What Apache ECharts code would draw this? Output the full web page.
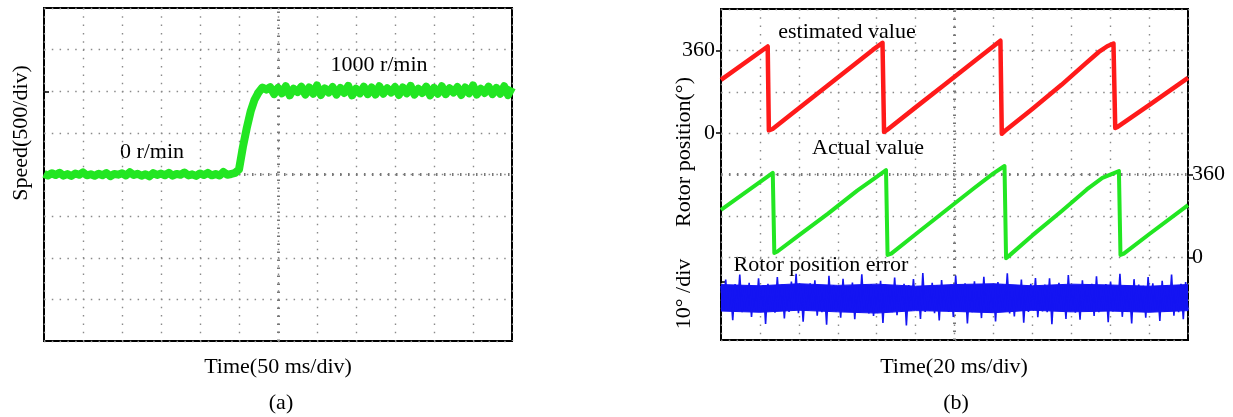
<!DOCTYPE html>
<html>
<head>
<meta charset="utf-8">
<script src="https://cdn.jsdelivr.net/npm/echarts@6/dist/echarts.min.js"></script>
<style>
  html, body { margin: 0; padding: 0; background: #fff; }
  #main { width: 1233px; height: 417px; }
</style>
</head>
<body>
<div id="main"></div>
<script>
// (a) speed trace, one sample every 5 ms, r/min
var speedStep = 5;
var speedValues = [
  8, -12, 15, -6, 20, -14, 5, -18, 12, -4,
  25, -10, 3, -16, 10, -8, 18, -20, 6, -2,
  14, -12, 28, -6, 9, -15, 4, -22, 16, -5,
  11, -9, 20, -14, 7, -3, 24, -11, 2, -17,
  13, -7, 19, -10, 5, -13, 30, -4,
  6, 20, 60, 330, 560, 760, 900, 985, 1045, 1020,
  1050, 965, 1040, 975, 1060, 950, 1030, 990, 1055, 960,
  1045, 970, 1070, 955, 1035, 985, 1050, 960, 1040, 980,
  1065, 950, 1030, 975, 1055, 965, 1045, 960, 1060, 970,
  1035, 985, 1050, 955, 1045, 975, 1065, 960, 1030, 980,
  1055, 950, 1040, 970, 1060, 965, 1035, 985, 1050, 955,
  1045, 975, 1070, 960, 1030, 980, 1055, 965, 1040, 970,
  1060, 955, 1045
];

// (b) estimated rotor position (ms, degrees)
var redTime = [0, 24, 24.6, 26.5, 40, 55, 70, 78, 83, 83.8, 85.5, 100, 115, 130, 140, 143.6, 144.3, 146, 160, 175, 187, 194, 198.5, 201.7, 202.6, 204, 220, 240];
var redAngle = [232, 377, 12, 18, 108, 208, 308, 362, 393, 5, 15, 112, 212, 312, 378, 402, -3, 10, 105, 210, 300, 352, 378, 390, 22, 28, 122, 240];

// (b) actual rotor position
var greenTime = [0, 26.6, 27.4, 29, 40, 55, 70, 80, 84.8, 85.6, 87.5, 100, 115, 130, 140, 145.7, 146.5, 148, 160, 175, 188, 196, 204.5, 205.3, 207, 220, 240];
var greenAngle = [206, 367, 19, 25, 95, 190, 290, 350, 379, 10, 16, 100, 200, 300, 365, 397, -4, 6, 95, 200, 295, 345, 375, 10, 16, 100, 227];

// (b) rotor position error: dense core band every 20 ms ...
var errCoreTime = [0, 20, 40, 60, 80, 100, 120, 140, 160, 180, 200, 220, 240];
var errCoreHigh = [3.4, 3.1, 3.6, 3.2, 3.5, 3.0, 3.4, 3.6, 3.1, 3.5, 3.3, 3.0, 3.4];
var errCoreLow = [-3.0, -3.3, -2.8, -3.2, -3.5, -2.9, -3.1, -3.4, -2.8, -3.2, -3.0, -3.3, -2.9];
// ... and the spikes, samples spread over 0..240 ms
var errValues = [
  3.1,-2.8, 4.6,-3.0, 2.9,-5.2, 3.5,-2.6, 5.8,-3.3, 3.0,-2.9, 3.8,-4.4, 2.7,-3.1, 4.9,-2.7, 3.3,-6.1,
  3.6,-3.0, 2.8,-3.4, 5.2,-2.8, 3.4,-4.8, 3.0,-3.2, 4.1,-2.9, 6.0,-3.5, 3.2,-5.6, 2.9,-3.0, 3.7,-2.7,
  4.4,-4.1, 3.1,-3.3, 2.8,-6.3, 5.5,-2.9, 3.3,-3.1, 3.0,-4.6, 4.8,-3.0, 2.7,-2.8, 3.9,-5.0, 3.2,-3.4,
  5.9,-2.9, 3.0,-3.6, 3.5,-4.2, 2.9,-3.0, 4.3,-5.9, 3.4,-2.8, 3.1,-3.3, 5.1,-4.0, 2.8,-3.1, 3.6,-6.5,
  3.3,-3.0, 4.7,-2.7, 3.0,-4.9, 6.2,-3.2, 2.9,-3.0, 3.8,-3.5, 3.2,-5.3, 4.5,-2.9, 3.0,-3.2, 3.4,-4.4,
  5.6,-3.1, 2.8,-2.8, 3.7,-6.0, 3.1,-3.3, 4.2,-3.0, 2.9,-4.7, 5.3,-2.9, 3.3,-3.4, 3.0,-5.5, 4.0,-3.1,
  3.5,-2.8, 6.1,-3.6, 2.9,-4.3, 3.2,-3.0, 4.6,-5.8, 3.0,-3.2, 3.6,-2.9, 5.0,-4.5, 2.8,-3.1, 3.4,-3.3,
  4.9,-6.2, 3.1,-3.0, 3.8,-2.8, 2.9,-4.9, 5.7,-3.1, 3.3,-3.4, 3.0,-5.1, 4.4,-2.9, 3.2,-3.0, 3.6,-4.2,
  5.4,-3.3, 2.9,-2.8, 3.5,-5.7, 4.1,-3.1, 3.0,-3.0, 6.0,-4.4, 3.2,-3.2, 2.8,-6.0, 4.7,-2.9, 3.4,-3.1,
  3.1,-4.6, 5.2,-3.0, 3.7,-2.8, 2.9,-5.4, 4.3,-3.2, 3.3,-3.0, 5.8,-4.1, 3.0,-3.3, 3.6,-5.0, 4.0,-2.9
];
var errSpan = 240;

var speedTicks = [0, 1000];
var angleTicks = [0, 360];
var errTicks = [4, -2];

var FONT = '"Liberation Serif", "DejaVu Serif", serif';
var BLUE = '#1414f2';
var dotH = { color: '#8a8a8a', width: 1.4, type: [1.5, 6.3] };
var dotV = { color: '#8a8a8a', width: 1.4, type: [1.5, 6.8] };
var centerLine = { color: '#777', width: 3, type: [1.5, 6.5] };
var tickStyle = { color: '#000', width: 1.5 };

function zip(xs, ys) {
  var out = [];
  for (var i = 0; i < xs.length; i++) out.push([xs[i], ys[i]]);
  return out;
}

var speedData = speedValues.map(function (v, i) { return [i * speedStep, v]; });
var errData = errValues.map(function (v, i) { return [i * errSpan / (errValues.length - 1), v]; });

// axis that only carries a few ticks / labels, no grid lines
function markAxis(grid, min, max, interval, pos, ticks, inside, labels, margin) {
  return {
    type: 'value', gridIndex: grid, min: min, max: max, interval: interval, position: pos,
    axisLine: { show: false },
    axisTick: { show: true, inside: inside, length: 5, customValues: ticks, lineStyle: tickStyle },
    axisLabel: labels
      ? { show: true, customValues: ticks, margin: margin, color: '#000', fontFamily: FONT, fontSize: 22 }
      : { show: false },
    splitLine: { show: false }
  };
}

// filled half of the error band; the two halves overlap a little around 0
function coreSeries(name, data, origin) {
  return {
    name: name, type: 'line', xAxisIndex: 1, yAxisIndex: 5, z: 5,
    data: data, showSymbol: false, silent: true,
    lineStyle: { color: BLUE, width: 1 },
    areaStyle: { color: BLUE, opacity: 1, origin: origin }
  };
}

var chart = echarts.init(document.getElementById('main'));

var option = {
  animation: false,
  backgroundColor: '#fff',
  grid: [
    { left: 44, top: 8, width: 468, height: 333, show: true, borderColor: '#000', borderWidth: 2, backgroundColor: 'transparent' },
    { left: 721, top: 9, width: 467, height: 331, show: true, borderColor: '#000', borderWidth: 2, backgroundColor: 'transparent' }
  ],
  xAxis: [
    {
      type: 'value', gridIndex: 0, min: 0, max: 600, interval: 50,
      axisLine: { show: false }, axisTick: { show: false }, axisLabel: { show: false },
      splitLine: { show: true, lineStyle: dotV }
    },
    {
      type: 'value', gridIndex: 1, min: 0, max: 240, interval: 20,
      axisLine: { show: false }, axisTick: { show: false }, axisLabel: { show: false },
      splitLine: { show: true, lineStyle: dotV }
    }
  ],
  yAxis: [
    // 0: speed scale + grid lines
    {
      type: 'value', gridIndex: 0, min: -2000, max: 2000, interval: 500,
      axisLine: { show: false }, axisTick: { show: false }, axisLabel: { show: false },
      splitLine: { show: true, lineStyle: dotH }
    },
    // 1: speed ticks
    markAxis(0, -2000, 2000, 500, 'left', speedTicks, true, false, 0),
    // 2: estimated angle scale + grid lines
    {
      type: 'value', gridIndex: 1, min: -900, max: 540, interval: 180, position: 'left',
      axisLine: { show: false }, axisTick: { show: false }, axisLabel: { show: false },
      splitLine: { show: true, lineStyle: dotH }
    },
    // 3: estimated angle ticks/labels
    markAxis(1, -900, 540, 180, 'left', angleTicks, false, true, 6),
    // 4: actual angle ticks/labels
    markAxis(1, -360, 1080, 180, 'right', angleTicks, false, true, 4),
    // 5: error scale ticks
    markAxis(1, -10, 70, 10, 'left', errTicks, true, false, 0)
  ],
  series: [
    {
      type: 'line', xAxisIndex: 0, yAxisIndex: 0, data: [], z: 1, silent: true,
      markLine: {
        silent: true, symbol: 'none', label: { show: false }, lineStyle: centerLine,
        data: [{ xAxis: 300 }, { yAxis: 0 }]
      }
    },
    {
      type: 'line', xAxisIndex: 1, yAxisIndex: 2, data: [], z: 1, silent: true,
      markLine: {
        silent: true, symbol: 'none', label: { show: false }, lineStyle: centerLine,
        data: [{ xAxis: 120 }, { yAxis: -180 }]
      }
    },
    {
      name: 'speed', type: 'line', xAxisIndex: 0, yAxisIndex: 0, z: 5,
      data: speedData, showSymbol: false,
      lineStyle: { color: '#22e622', width: 8, join: 'round' }
    },
    {
      name: 'estimated', type: 'line', xAxisIndex: 1, yAxisIndex: 2, z: 5,
      data: zip(redTime, redAngle), showSymbol: false,
      lineStyle: { color: '#ff1a1a', width: 4.5, join: 'round' }
    },
    {
      name: 'actual', type: 'line', xAxisIndex: 1, yAxisIndex: 4, z: 5,
      data: zip(greenTime, greenAngle), showSymbol: false,
      lineStyle: { color: '#22e622', width: 4, join: 'round' }
    },
    coreSeries('errHigh', zip(errCoreTime, errCoreHigh), -1),
    coreSeries('errLow', zip(errCoreTime, errCoreLow), 1),
    {
      name: 'error', type: 'line', xAxisIndex: 1, yAxisIndex: 5, z: 6,
      data: errData, showSymbol: false,
      lineStyle: { color: BLUE, width: 1.6 }
    }
  ],
  graphic: [
    { type: 'text', x: 21, y: 133, rotation: Math.PI / 2, style: { text: 'Speed(500/div)', font: '22px ' + FONT, fill: '#000', align: 'center', verticalAlign: 'middle' } },
    { type: 'text', x: 278, y: 367, style: { text: 'Time(50 ms/div)', font: '22px ' + FONT, fill: '#000', align: 'center', verticalAlign: 'middle' } },
    { type: 'text', x: 281, y: 403, style: { text: '(a)', font: '22px ' + FONT, fill: '#000', align: 'center', verticalAlign: 'middle' } },
    { type: 'text', x: 152, y: 152, style: { text: '0 r/min', font: '22px ' + FONT, fill: '#000', align: 'center', verticalAlign: 'middle' } },
    { type: 'text', x: 379, y: 65, style: { text: '1000 r/min', font: '22px ' + FONT, fill: '#000', align: 'center', verticalAlign: 'middle' } },
    { type: 'text', x: 684, y: 152, rotation: Math.PI / 2, style: { text: 'Rotor position(°)', font: '22px ' + FONT, fill: '#000', align: 'center', verticalAlign: 'middle' } },
    { type: 'text', x: 684, y: 294, rotation: Math.PI / 2, style: { text: '10° /div', font: '22px ' + FONT, fill: '#000', align: 'center', verticalAlign: 'middle' } },
    { type: 'text', x: 847, y: 32, style: { text: 'estimated value', font: '22px ' + FONT, fill: '#000', align: 'center', verticalAlign: 'middle' } },
    { type: 'text', x: 868, y: 148, style: { text: 'Actual value', font: '22px ' + FONT, fill: '#000', align: 'center', verticalAlign: 'middle' } },
    { type: 'text', x: 821, y: 265, style: { text: 'Rotor position error', font: '22px ' + FONT, fill: '#000', align: 'center', verticalAlign: 'middle' } },
    { type: 'text', x: 954, y: 367, style: { text: 'Time(20 ms/div)', font: '22px ' + FONT, fill: '#000', align: 'center', verticalAlign: 'middle' } },
    { type: 'text', x: 956, y: 403, style: { text: '(b)', font: '22px ' + FONT, fill: '#000', align: 'center', verticalAlign: 'middle' } }
  ]
};

chart.setOption(option);
</script>
</body>
</html>
